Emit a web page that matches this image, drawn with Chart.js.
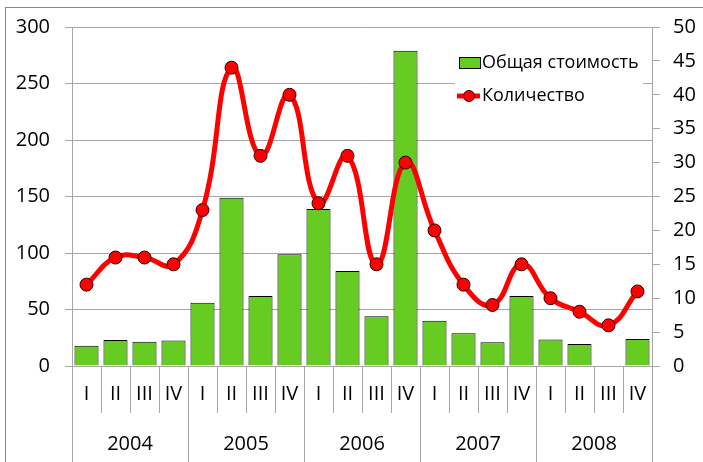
<!DOCTYPE html>
<html>
<head>
<meta charset="utf-8">
<script src="https://cdn.jsdelivr.net/npm/chart.js@4"></script>
<style>
  html, body { margin: 0; padding: 0; background: #fff; }
  #wrap { width: 703px; height: 462px; position: relative; }
</style>
</head>
<body>
<div id="wrap"><canvas id="chart" width="703" height="462"></canvas></div>
<script>
const quarters = ['I', 'II', 'III', 'IV', 'I', 'II', 'III', 'IV', 'I', 'II', 'III', 'IV',
                  'I', 'II', 'III', 'IV', 'I', 'II', 'III', 'IV'];
const years = ['2004', '2005', '2006', '2007', '2008'];
const totalCost = [18, 23, 21.5, 22.5, 56, 149, 62, 99, 139, 84, 44, 279, 40, 29, 21, 62, 23.5, 19.5, null, 24];
const quantity = [12, 16, 16, 15, 23, 44, 31, 40, 24, 31, 15, 30, 20, 12, 9, 15, 10, 8, 6, 11];
const leftTicks = [0, 50, 100, 150, 200, 250, 300];
const rightTicks = [0, 5, 10, 15, 20, 25, 30, 35, 40, 45, 50];

const GRID = '#a6a6a6';
const GREEN = '#66cc22';

Chart.defaults.font.family = "'Open Sans', sans-serif";
Chart.defaults.font.size = 20;
Chart.defaults.color = '#000';

// outer frame of the chart
const framePlugin = {
    id: 'frame',
    beforeDraw(chart) {
        const ctx = chart.ctx;
        ctx.save();
        ctx.strokeStyle = '#888';
        ctx.lineWidth = 1;
        ctx.strokeRect(5.5, 7.5, 720, 480);
        ctx.restore();
    }
};

// legend box inside the plot, upper right
const boxLegend = {
    id: 'boxLegend',
    beforeDatasetsDraw(chart) {
        const ctx = chart.ctx;
        const ds = chart.data.datasets;
        ctx.save();
        ctx.fillStyle = '#fff';
        ctx.fillRect(455, 35, 188, 95);

        ctx.font = "18px 'Open Sans', sans-serif";
        ctx.textBaseline = 'middle';
        ctx.textAlign = 'left';

        // bar item
        ctx.fillStyle = GREEN;
        ctx.fillRect(459.5, 57.5, 21, 11);
        ctx.strokeStyle = '#000';
        ctx.lineWidth = 1;
        ctx.strokeRect(459.5, 57.5, 21, 11);
        ctx.fillStyle = '#000';
        ctx.fillText(ds[0].label, 482, 63);

        // line item
        ctx.strokeStyle = 'red';
        ctx.lineWidth = 5;
        ctx.beginPath();
        ctx.moveTo(457, 96);
        ctx.lineTo(480, 96);
        ctx.stroke();
        ctx.beginPath();
        ctx.arc(469, 96, 5.5, 0, Math.PI * 2);
        ctx.fillStyle = 'red';
        ctx.fill();
        ctx.lineWidth = 1;
        ctx.strokeStyle = '#300';
        ctx.stroke();
        ctx.fillStyle = '#000';
        ctx.fillText(ds[1].label, 482, 96);
        ctx.restore();
    }
};

const ctx = document.getElementById('chart').getContext('2d');
new Chart(ctx, {
    type: 'bar',
    data: {
        labels: quarters,
        datasets: [
            {
                type: 'bar',
                label: 'Общая стоимость',
                data: totalCost,
                backgroundColor: GREEN,
                borderColor: '#000',
                borderWidth: 1,
                categoryPercentage: 1,
                barPercentage: 0.83,
                yAxisID: 'y',
                order: 2
            },
            {
                type: 'line',
                label: 'Количество',
                data: quantity,
                borderColor: 'red',
                borderWidth: 5,
                tension: 0.45,
                pointRadius: 6.5,
                pointBackgroundColor: 'red',
                pointBorderColor: '#300',
                pointBorderWidth: 1,
                yAxisID: 'y1',
                order: 1
            }
        ]
    },
    options: {
        responsive: false,
        animation: false,
        layout: { padding: { top: 27, left: 0, right: 0, bottom: 0 } },
        plugins: {
            legend: { display: false },
            tooltip: { enabled: false }
        },
        scales: {
            y: {
                position: 'left',
                min: 0,
                max: 300,
                afterBuildTicks: s => { s.ticks = leftTicks.map(v => ({ value: v })); },
                ticks: { padding: 15 },
                grid: { color: GRID, tickLength: 7 },
                border: { color: GRID },
                afterFit: s => { s.width = 72; }
            },
            y1: {
                position: 'right',
                min: 0,
                max: 50,
                afterBuildTicks: s => { s.ticks = rightTicks.map(v => ({ value: v })); },
                ticks: { padding: 13 },
                grid: { drawOnChartArea: false, color: GRID, tickLength: 8 },
                border: { color: GRID },
                afterFit: s => { s.width = 51; }
            },
            x: {
                position: 'bottom',
                offset: true,
                ticks: { padding: -31, maxRotation: 0, autoSkip: false },
                grid: { offset: true, drawOnChartArea: false, color: GRID, tickLength: 47 },
                border: { color: GRID },
                afterFit: s => { s.height = 47; }
            },
            x2: {
                type: 'category',
                labels: years,
                position: 'bottom',
                weight: 1,
                offset: true,
                ticks: { padding: -30, maxRotation: 0, autoSkip: false },
                grid: { offset: true, drawOnChartArea: false, color: GRID, tickLength: 49 },
                border: { display: false },
                afterFit: s => { s.height = 49; }
            }
        }
    },
    plugins: [framePlugin, boxLegend]
});
</script>
</body>
</html>
